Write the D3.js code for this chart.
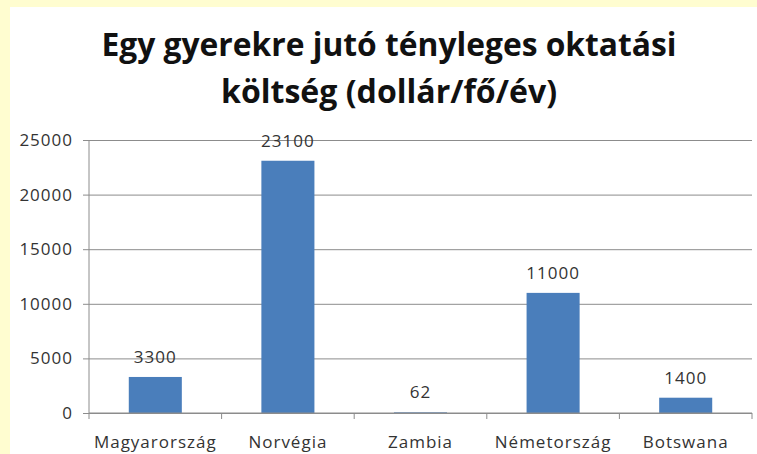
<!DOCTYPE html>
<html>
<head>
<meta charset="utf-8">
<script src="https://cdn.jsdelivr.net/npm/d3@7"></script>
<style>
  body { margin: 0; background: #fff; }
  text { font-family: "Open Sans", "Noto Sans", sans-serif; }
</style>
</head>
<body>
<div id="chart"></div>
<script>
  ///////////////////////////////////////////////////////////////////////////
  ////////////////////////////////// Data ///////////////////////////////////
  ///////////////////////////////////////////////////////////////////////////
  var countries = ["Magyarország", "Norvégia", "Zambia", "Németország", "Botswana"]
  var costs = [3300, 23100, 62, 11000, 1400]
  var yTicks = [0, 5000, 10000, 15000, 20000, 25000]
  var titleLines = ["Egy gyerekre jutó tényleges oktatási", "költség (dollár/fő/év)"]

  ///////////////////////////////////////////////////////////////////////////
  ///////////////////////////////// Globals /////////////////////////////////
  ///////////////////////////////////////////////////////////////////////////
  var W = 757, H = 454
  var plot = {left: 89, right: 752, top: 140, bottom: 413}

  var svg = d3.select("#chart").append("svg")
    .attr("width", W)
    .attr("height", H)

  // yellow slide border + white chart area
  svg.append("rect").attr("width", W).attr("height", H).attr("fill", "#fffdd0")
  svg.append("rect").attr("x", 10).attr("y", 7).attr("width", W - 10).attr("height", H - 7).attr("fill", "#fff")

  ///////////////////////////////////////////////////////////////////////////
  ///////////////////////////// Create scales ///////////////////////////////
  ///////////////////////////////////////////////////////////////////////////
  var x = d3.scaleBand()
    .domain(countries)
    .range([plot.left, plot.right])
    .paddingInner(0.6)
    .paddingOuter(0.3)

  var y = d3.scaleLinear()
    .domain([0, 25000])
    .range([plot.bottom, plot.top])

  //////////////////////////////// Title ////////////////////////////////////
  svg.selectAll(".title").data(titleLines).enter().append("text")
    .attr("class", "title")
    .attr("x", 389)
    .attr("y", function (d, i) { return 56 + i * 47 })
    .attr("text-anchor", "middle")
    .attr("font-size", 33)
    .attr("font-weight", "bold")
    .attr("fill", "#111")
    .attr("textLength", function (d, i) { return i == 0 ? 575 : 336 })
    .attr("lengthAdjust", "spacingAndGlyphs")
    .text(function (d) { return d })

  //////////////////////////////// Grid + y axis ////////////////////////////
  var yAxis = d3.axisLeft(y)
    .tickValues(yTicks)
    .tickSize(-(plot.right - plot.left))
    .tickPadding(16)
    .tickFormat(d3.format("d"))

  var gy = svg.append("g")
    .attr("transform", "translate(" + plot.left + ",0)")
    .call(yAxis)
  gy.select(".domain").remove()
  gy.selectAll(".tick line").attr("stroke", "#8c8c8c").attr("x1", -6)
  gy.selectAll(".tick text")
    .attr("font-size", 17)
    .attr("letter-spacing", 1)
    .attr("fill", "#333")
    .attr("font-family", "Open Sans, sans-serif")

  svg.append("line")
    .attr("x1", plot.left).attr("x2", plot.left)
    .attr("y1", plot.top).attr("y2", plot.bottom)
    .attr("stroke", "#8c8c8c")

  //////////////////////////////// Bars /////////////////////////////////////
  svg.selectAll(".bar").data(costs).enter().append("rect")
    .attr("class", "bar")
    .attr("x", function (d, i) { return x(countries[i]) })
    .attr("width", x.bandwidth())
    .attr("y", function (d) { return y(d) })
    .attr("height", function (d) { return y(0) - y(d) })
    .attr("fill", "#4a7ebb")

  svg.selectAll(".val").data(costs).enter().append("text")
    .attr("class", "val")
    .attr("x", function (d, i) { return x(countries[i]) + x.bandwidth() / 2 })
    .attr("y", function (d) { return y(d) - 14 })
    .attr("text-anchor", "middle")
    .attr("font-size", 17)
    .attr("letter-spacing", 1)
    .attr("fill", "#333")
    .text(function (d) { return d })

  //////////////////////////////// x axis ///////////////////////////////////
  svg.append("line")
    .attr("x1", plot.left).attr("x2", plot.right)
    .attr("y1", plot.bottom).attr("y2", plot.bottom)
    .attr("stroke", "#8c8c8c")

  var step = x.step()
  var bounds = d3.range(countries.length + 1).map(function (i) { return plot.left + i * step })
  svg.selectAll(".xtick").data(bounds).enter().append("line")
    .attr("class", "xtick")
    .attr("x1", function (d) { return d }).attr("x2", function (d) { return d })
    .attr("y1", plot.bottom).attr("y2", plot.bottom + 6)
    .attr("stroke", "#8c8c8c")

  svg.selectAll(".cat").data(countries).enter().append("text")
    .attr("class", "cat")
    .attr("x", function (d) { return x(d) + x.bandwidth() / 2 })
    .attr("y", 448)
    .attr("text-anchor", "middle")
    .attr("font-size", 17)
    .attr("letter-spacing", 1)
    .attr("fill", "#333")
    .text(function (d) { return d })
</script>
</body>
</html>
